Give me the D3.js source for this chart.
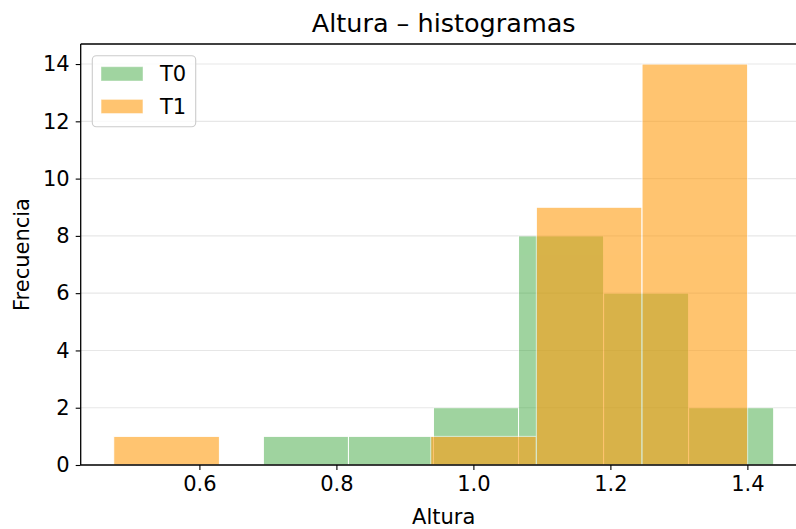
<!DOCTYPE html>
<html>
<head>
<meta charset="utf-8">
<script src="https://cdn.jsdelivr.net/npm/d3@7"></script>
<style>
  html, body { margin: 0; padding: 0; background: #fff; }
  svg { display: block; font-family: "DejaVu Sans", sans-serif; }
</style>
</head>
<body>
<svg id="chart" width="796" height="529"></svg>
<script>
// Histogram bin edges and counts for each group
const t0Edges  = [0.6934, 0.8176, 0.9417, 1.0659, 1.1901, 1.3142, 1.4384];
const t0Counts = [1, 1, 2, 8, 6, 2];
const t1Edges  = [0.4749, 0.6292, 0.7834, 0.9377, 1.0919, 1.2462, 1.4004];
const t1Counts = [1, 0, 0, 1, 9, 14];

const seriesNames = ["T0", "T1"];
const xTicks = [0.6, 0.8, 1.0, 1.2, 1.4];
const yTicks = [0, 2, 4, 6, 8, 10, 12, 14];

const titleText = "Altura – histogramas";
const xLabel = "Altura";
const yLabel = "Frecuencia";

const colors = { T0: "#2ca02c", T1: "#ff9d11" };
const alphas = { T0: 0.45, T1: 0.6 };

const svg = d3.select("#chart");
const plotLeft = 80.7, plotRight = 806.7, plotTop = 44, plotBottom = 465;

const x = d3.scaleLinear().domain([0.4267, 1.4866]).range([plotLeft, plotRight]);
const y = d3.scaleLinear().domain([0, 14.7]).range([plotBottom, plotTop]);

// clip region for the plotting area
svg.append("defs").append("clipPath").attr("id", "plotClip")
  .append("rect").attr("x", plotLeft).attr("y", plotTop)
  .attr("width", plotRight - plotLeft).attr("height", plotBottom - plotTop);

// horizontal grid
svg.append("g").selectAll("line").data(yTicks).join("line")
  .attr("x1", plotLeft).attr("x2", plotRight)
  .attr("y1", d => y(d)).attr("y2", d => y(d))
  .attr("stroke", "#b0b0b0").attr("stroke-opacity", 0.3)
  .attr("stroke-width", 1.1);

function bins(edges, counts) {
  return counts.map((c, i) => ({ x0: edges[i], x1: edges[i + 1], c }));
}

const series = [
  { name: "T0", data: bins(t0Edges, t0Counts) },
  { name: "T1", data: bins(t1Edges, t1Counts) }
];

const plot = svg.append("g").attr("clip-path", "url(#plotClip)");
series.forEach(s => {
  plot.append("g").attr("opacity", alphas[s.name])
    .selectAll("rect").data(s.data.filter(d => d.c > 0)).join("rect")
    .attr("x", d => x(d.x0))
    .attr("width", d => x(d.x1) - x(d.x0))
    .attr("y", d => y(d.c))
    .attr("height", d => y(0) - y(d.c))
    .attr("fill", colors[s.name])
    .attr("stroke", "#ffffff")
    .attr("stroke-width", 1);
});

// axes
const xAxis = d3.axisBottom(x).tickValues(xTicks).tickFormat(d3.format(".1f"))
  .tickSize(5).tickPadding(6);
const yAxis = d3.axisLeft(y).tickValues(yTicks).tickFormat(d3.format("d"))
  .tickSize(5).tickPadding(6);

const gx = svg.append("g").attr("transform", `translate(0,${plotBottom})`).call(xAxis);
const gy = svg.append("g").attr("transform", `translate(${plotLeft},0)`).call(yAxis);
[gx, gy].forEach(g => {
  g.select(".domain").remove();
  g.selectAll(".tick line").attr("stroke", "#000").attr("stroke-width", 1.1);
  g.selectAll(".tick text").attr("fill", "#000")
    .style("font-family", "DejaVu Sans").style("font-size", "21px");
});

// spines: left, bottom and top
svg.append("line").attr("x1", plotLeft).attr("x2", plotLeft).attr("y1", plotTop).attr("y2", plotBottom)
  .attr("stroke", "#000").attr("stroke-width", 1.3);
svg.append("line").attr("x1", plotLeft).attr("x2", plotRight).attr("y1", plotBottom).attr("y2", plotBottom)
  .attr("stroke", "#000").attr("stroke-width", 1.3);
svg.append("line").attr("x1", plotLeft).attr("x2", plotRight).attr("y1", plotTop).attr("y2", plotTop)
  .attr("stroke", "#000").attr("stroke-width", 1.3);

// title and axis labels
svg.append("text").attr("x", (plotLeft + plotRight) / 2).attr("y", 32.3)
  .attr("text-anchor", "middle").style("font-size", "25.5px").attr("fill", "#000")
  .text(titleText);
svg.append("text").attr("x", (plotLeft + plotRight) / 2).attr("y", 524)
  .attr("text-anchor", "middle").style("font-size", "21px").attr("fill", "#000")
  .text(xLabel);
svg.append("text")
  .attr("transform", `translate(29,${(plotTop + plotBottom) / 2}) rotate(-90)`)
  .attr("text-anchor", "middle").style("font-size", "21px").attr("fill", "#000")
  .text(yLabel);

// legend
const legend = svg.append("g");
legend.append("rect").attr("x", 92.3).attr("y", 55.7).attr("width", 103.4).attr("height", 71)
  .attr("rx", 4).attr("fill", "#fff").attr("fill-opacity", 0.8)
  .attr("stroke", "#cccccc").attr("stroke-width", 1.1);
seriesNames.forEach((n, i) => {
  const yy = 66.7 + i * 32.6;
  legend.append("rect").attr("x", 101).attr("y", yy).attr("width", 42).attr("height", 14.3)
    .attr("fill", colors[n]).attr("fill-opacity", alphas[n])
    .attr("stroke", "#fff").attr("stroke-opacity", alphas[n]);
  legend.append("text").attr("x", 160).attr("y", yy + 7.2).attr("dy", "0.36em")
    .style("font-size", "21px").attr("fill", "#000").text(n);
});
</script>
</body>
</html>
